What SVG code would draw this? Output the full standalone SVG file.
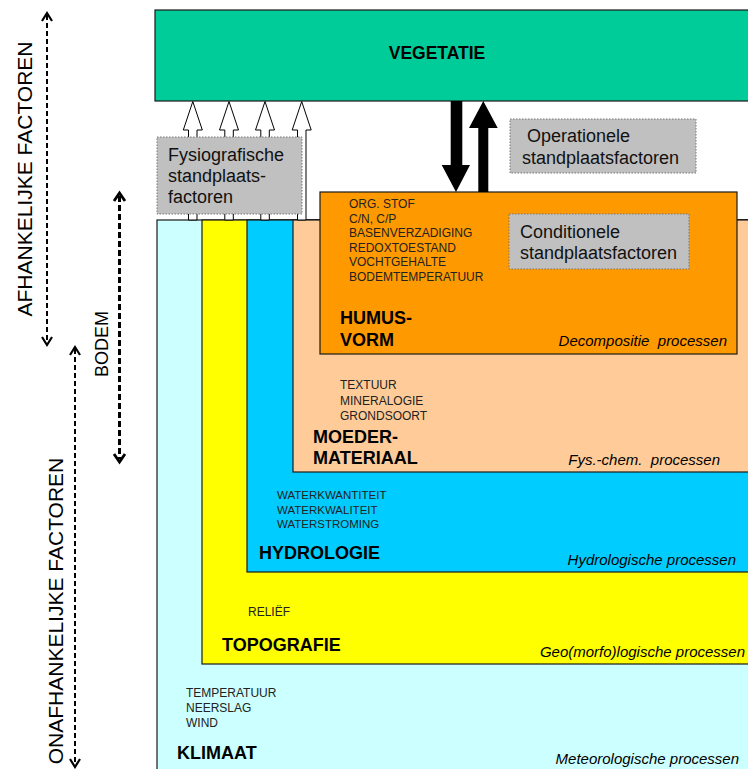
<svg xmlns="http://www.w3.org/2000/svg" width="748" height="769" viewBox="0 0 748 769">
  <defs>
    <style>
      text { font-family: "Liberation Sans", Arial, sans-serif; fill: #000; }
      .box { stroke: #1a1a1a; stroke-width: 1.2; }
      .note { fill: #c0c0c0; stroke: #777; stroke-width: 1; stroke-dasharray: 1.5 1.5; }
      .title { font-size: 18px; font-weight: bold; }
      .item { font-size: 12px; fill: #222; }
      .proc { font-size: 15px; font-style: italic; text-anchor: end; }
      .label { font-size: 18px; fill: #111; }
      .side { font-size: 21px; text-anchor: middle; }
      .dash { fill: none; stroke: #000; stroke-width: 2; stroke-dasharray: 5 3; }
      .dashHeavy { fill: none; stroke: #000; stroke-width: 3; stroke-dasharray: 6 3; }
      .chev { fill: none; stroke: #000; stroke-width: 2.2; stroke-linejoin: miter; }
      .open { fill: #fff; stroke: #000; stroke-width: 1; }
      .solid { fill: #000; }
    </style>
  </defs>

  <rect width="748" height="769" fill="#fff"/>

  <!-- layered site factors, outermost first -->
  <g id="klimaat">
    <rect class="box" x="157" y="220" width="600" height="560" fill="#ccffff"/>
    <text class="item" x="186" y="697">TEMPERATUUR</text>
    <text class="item" x="186" y="712">NEERSLAG</text>
    <text class="item" x="186" y="727">WIND</text>
    <text class="title" x="177" y="759">KLIMAAT</text>
    <text class="proc" x="739" y="764">Meteorologische processen</text>
  </g>

  <g id="topografie">
    <rect class="box" x="202" y="220" width="560" height="444" fill="#ffff00"/>
    <text class="item" x="248" y="616">RELIËF</text>
    <text class="title" x="222" y="651">TOPOGRAFIE</text>
    <text class="proc" x="745" y="657">Geo(morfo)logische processen</text>
  </g>

  <g id="hydrologie">
    <rect class="box" x="247" y="220" width="520" height="352" fill="#00ccff"/>
    <text class="item" x="277" y="499" style="font-size:11.5px">WATERKWANTITEIT</text>
    <text class="item" x="277" y="514" style="font-size:11.5px">WATERKWALITEIT</text>
    <text class="item" x="277" y="528" style="font-size:11.5px">WATERSTROMING</text>
    <text class="title" x="259" y="559">HYDROLOGIE</text>
    <text class="proc" x="736" y="565">Hydrologische processen</text>
  </g>

  <g id="moedermateriaal">
    <rect class="box" x="293" y="220" width="470" height="252" fill="#ffcc99"/>
    <text class="item" x="340" y="389">TEXTUUR</text>
    <text class="item" x="340" y="405">MINERALOGIE</text>
    <text class="item" x="340" y="420">GRONDSOORT</text>
    <text class="title" x="313" y="443">MOEDER-</text>
    <text class="title" x="313" y="464">MATERIAAL</text>
    <text class="proc" x="720" y="465" xml:space="preserve">Fys.-chem.  processen</text>
  </g>

  <g id="humusvorm">
    <rect class="box" x="320" y="192" width="417" height="162" fill="#ff9900"/>
    <text class="item" x="349" y="208">ORG. STOF</text>
    <text class="item" x="349" y="223">C/N, C/P</text>
    <text class="item" x="349" y="237">BASENVERZADIGING</text>
    <text class="item" x="349" y="252">REDOXTOESTAND</text>
    <text class="item" x="349" y="266">VOCHTGEHALTE</text>
    <text class="item" x="349" y="281">BODEMTEMPERATUUR</text>
    <text class="title" x="340" y="324">HUMUS-</text>
    <text class="title" x="340" y="346">VORM</text>
    <text class="proc" x="727" y="346" xml:space="preserve">Decompositie  processen</text>
  </g>

  <g id="vegetatie">
    <rect class="box" x="155" y="10" width="610" height="91" fill="#00cc99"/>
    <text class="title" x="437" y="59" text-anchor="middle" style="font-size:17.5px">VEGETATIE</text>
  </g>

  <!-- connectors: physiographic (open) and operational (solid) arrows, scale bars -->
  <g id="connectors">
    <path class="open" d="M188.5 220 V130 H183.3 L192.8 101.5 L202.3 130 H197 V220 Z"/>
    <path class="open" d="M224.8 220 V130 H219.5 L229 101.5 L238.5 130 H233.3 V220 Z"/>
    <path class="open" d="M260.8 220 V130 H255.5 L265 101.5 L274.5 130 H269.3 V220 Z"/>
    <path class="open" d="M297.5 220 V130 H292.2 L301.7 101.5 L311.2 130 H306 V220 Z"/>

    <path class="solid" d="M450.7 101 H462.3 V165 H470 L456 192 L441.7 165 H450.7 Z"/>
    <path class="solid" d="M478.3 192 V128 H469 L483.3 101 L497.7 128 H488.3 V192 Z"/>

    <line class="dash" x1="47" y1="15" x2="47" y2="343"/>
    <polyline class="chev" points="42,21 47,13 52,21"/>
    <polyline class="chev" points="42,337 47,345 52,337"/>

    <line class="dash" x1="75" y1="349" x2="75" y2="765"/>
    <polyline class="chev" points="70,355 75,347 80,355"/>
    <polyline class="chev" points="70,759 75,767 80,759"/>

    <line class="dashHeavy" x1="119.5" y1="196" x2="119.5" y2="459"/>
    <polyline class="chev" points="114,201 119.5,193 125,201" style="stroke-width:2.8"/>
    <polyline class="chev" points="114,454 119.5,462 125,454" style="stroke-width:2.8"/>
  </g>

  <g id="fysiografisch">
    <rect class="note" x="157" y="137" width="145" height="77"/>
    <text class="label" x="168" y="161">Fysiografische</text>
    <text class="label" x="168" y="182">standplaats-</text>
    <text class="label" x="168" y="203">factoren</text>
  </g>

  <g id="operationeel">
    <rect class="note" x="510" y="119" width="186" height="54"/>
    <text class="label" x="527" y="142">Operationele</text>
    <text class="label" x="522" y="164">standplaatsfactoren</text>
  </g>

  <g id="conditioneel">
    <rect class="note" x="509" y="214" width="180" height="55"/>
    <text class="label" x="520" y="238">Conditionele</text>
    <text class="label" x="520" y="259">standplaatsfactoren</text>
  </g>

  <g id="zijlabels">
    <text class="side" x="32" y="179" transform="rotate(-90 32 179)">AFHANKELIJKE FACTOREN</text>
    <text class="side" x="63" y="611" transform="rotate(-90 63 611)">ONAFHANKELIJKE FACTOREN</text>
    <text x="108" y="344" transform="rotate(-90 108 344)" text-anchor="middle" style="font-size:18px">BODEM</text>
  </g>
</svg>
